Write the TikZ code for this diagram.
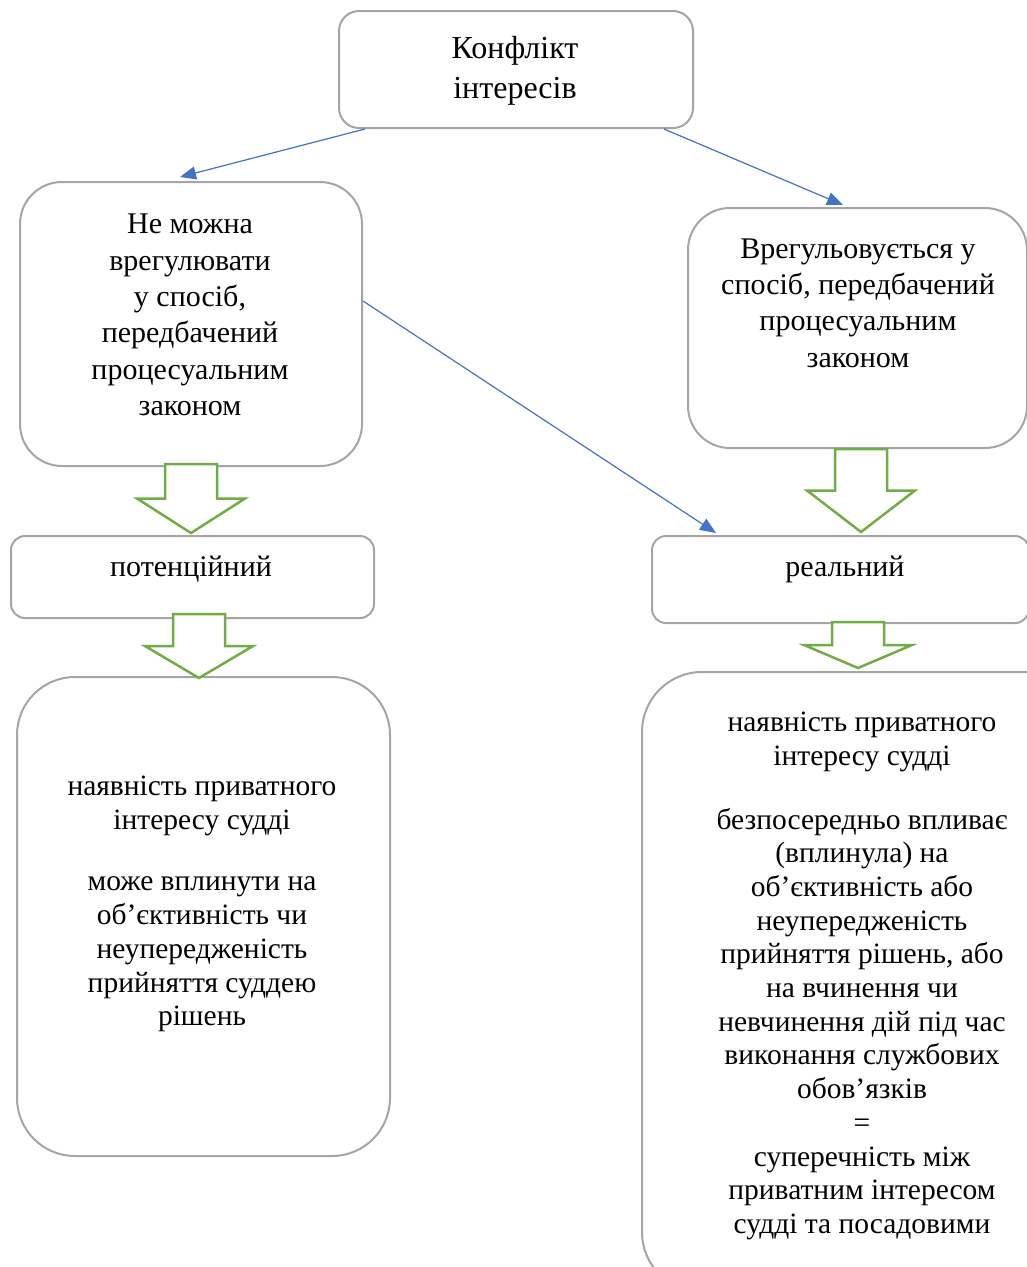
\documentclass[tikz,border=0pt]{standalone}
\usepackage{fontspec}
\setmainfont{Liberation Serif}
\usetikzlibrary{positioning, calc, arrows.meta}
\definecolor{boxgray}{HTML}{A5A5A5}
\definecolor{arrowgreen}{HTML}{70AD47}
\definecolor{linkblue}{HTML}{4472C4}
\tikzset{
  card/.style={draw=boxgray, line width=2pt, rounded corners=#1, anchor=north west, inner sep=0},
  card/.default=20pt,
  bigtext/.style={font=\fontsize{32}{39.5}\selectfont, align=center, inner sep=0},
  midtext/.style={font=\fontsize{30}{36.4}\selectfont, align=center, inner sep=0},
  smalltext/.style={font=\fontsize{29.5}{33.7}\selectfont, align=center, inner sep=0},
  link/.style={-{Triangle[length=16pt, width=13pt]}, draw=linkblue, line width=1.2pt},
  blockarrow/.style={draw=arrowgreen, fill=white, line width=2.5pt, line join=miter},
  x=1pt, y=-1pt
}
\newcommand{\greenarrow}[3]{%
  \draw[blockarrow] (#1-26,#2) -- (#1+26,#2) -- (#1+26,{(#2+#3)/2}) -- (#1+54,{(#2+#3)/2})
    -- (#1,#3) -- (#1-54,{(#2+#3)/2}) -- (#1-26,{(#2+#3)/2}) -- cycle;}

\begin{document}
\begin{tikzpicture}
  \useasboundingbox (0,0) rectangle (1027,1267);
  \clip (0,0) rectangle (1027,1267);
  % boxes
  \node[card, minimum width=354pt, minimum height=117pt] (conflict) at (338,10) {};
  \node[card=42pt, minimum width=342pt, minimum height=284pt] (blocked) at (19,181) {};
  \node[card=42pt, minimum width=339pt, minimum height=240pt] (settled) at (687,207) {};
  \node[card=14pt, minimum width=363pt, minimum height=82pt] (potential) at (10,535) {};
  \node[card=14pt, minimum width=377pt, minimum height=87pt] (real) at (651,535) {};
  \node[card=58pt, minimum width=373pt, minimum height=479pt] (potentialdef) at (16,676) {};
  \node[card=60pt, minimum width=440pt, minimum height=620pt] (realdef) at (641,671) {};
  % texts
  \node[bigtext] (conflicttxt) at (515,71) {Конфлікт\\інтересів};
  \node[midtext] (blockedtxt) at (190,315) {Не можна\\врегулювати\\у спосіб,\\передбачений\\процесуальним\\законом};
  \node[midtext] (settledtxt) at (858,303) {Врегульовується у\\спосіб, передбачений\\процесуальним\\законом};
  \node[midtext, anchor=base] (potentialtxt) at (191,576) {потенційний};
  \node[midtext, anchor=base] (realtxt) at (845,576) {реальний};
  \node[smalltext] (potentialdeftxt) at (202,904) {наявність приватного\\інтересу судді\\[28pt]може вплинути на\\об’єктивність чи\\неупередженість\\прийняття суддею\\рішень};
  \node[smalltext] (realdeftxt) at (862,976) {наявність приватного\\інтересу судді\\[30pt]безпосередньо впливає\\(вплинула) на\\об’єктивність або\\неупередженість\\прийняття рішень, або\\на вчинення чи\\невчинення дій під час\\виконання службових\\обов’язків\\=\\суперечність між\\приватним інтересом\\судді та посадовими};
  % connectors
  \draw[link] ([xshift=27pt]conflict.south west) -- ([xshift=161pt, yshift=4pt]blocked.north west);
  \draw[link] ([xshift=-30pt]conflict.south east) -- ([xshift=156pt, yshift=2pt]settled.north west);
  \draw[link] ([yshift=23pt]blocked.east) -- ([xshift=65pt, yshift=2pt]real.north west);
  \greenarrow{191}{464}{533}
  \greenarrow{199}{614}{678}
  \greenarrow{861}{449}{532}
  \greenarrow{858}{622}{668}
\end{tikzpicture}
\end{document}
